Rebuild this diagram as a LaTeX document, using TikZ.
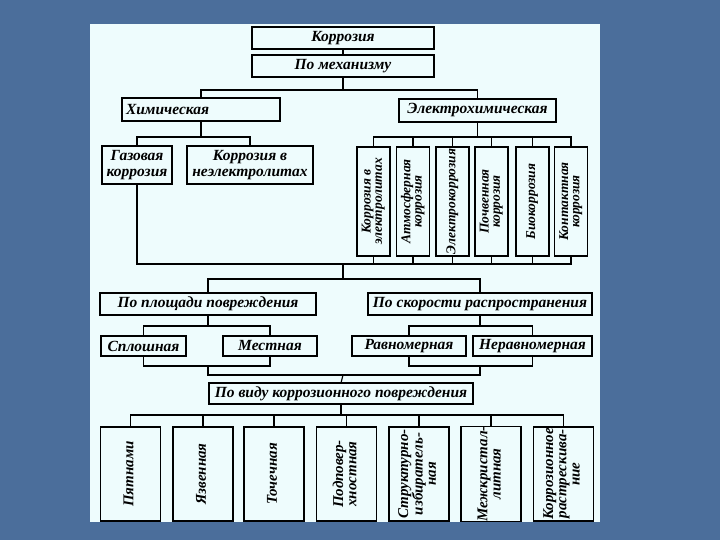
\documentclass[tikz,border=0pt]{standalone}
\usepackage{fontspec}
\setmainfont{Liberation Serif}
\usepackage{graphicx}
\definecolor{slideblue}{RGB}{75,110,155}
\definecolor{panel}{RGB}{238,252,253}
\def\vtext#1{\rotatebox{90}{\def\arraystretch{0.8}\begin{tabular}{@{}c@{}}#1\end{tabular}}}
\tikzset{
	blk/.style={draw=black, line width=1.3pt, fill=panel, inner sep=0pt, outer sep=0pt, align=center, font=\fontsize{15.5}{16}\selectfont\bfseries\itshape},
	eblk/.style={blk, minimum width=33, minimum height=109, font=\fontsize{13.5}{14}\selectfont\bfseries\itshape},
	bblk/.style={blk, minimum width=60, minimum height=94, font=\fontsize{15}{16.5}\selectfont\bfseries\itshape},
	link/.style={line width=1.2pt}
}

\begin{document}
\begin{tikzpicture}[x=1pt,y=1pt]
			%%%%% START %%%%%
			
			\fill[slideblue] (0,0) rectangle (720,-540);
			\useasboundingbox (0,0) rectangle (720,-540);
			\fill[panel] (90,-24) rectangle (600,-522);
			
			\node[blk, minimum width=182, minimum height=22] (kor) at (343,-38) {Коррозия};
			\node[blk, minimum width=182, minimum height=22] (mech) at (343,-66) {По механизму};
			
			\node[blk, minimum width=158, minimum height=23, text width=150, align=left] (chem) at (201,-109.5) {Химическая};
			\node[blk, minimum width=157, minimum height=23] (elec) at (477.5,-110.5) {Электрохимическая};
			
			\node[blk, minimum width=70, minimum height=38] (gas) at (137,-165) {Газовая\\коррозия};
			\node[blk, minimum width=126, minimum height=38] (nonel) at (250,-165) {Коррозия в\\неэлектролитах};
			
			\node[eblk] (e1) at (373.5,-201.5) {\vtext{Коррозия в\\электролитах}};
			\node[eblk] (e2) at (413,-201.5) {\vtext{Атмосферная\\коррозия}};
			\node[eblk] (e3) at (452.5,-201.5) {\vtext{Электрокоррозия}};
			\node[eblk] (e4) at (491.5,-201.5) {\vtext{Почвенная\\коррозия}};
			\node[eblk] (e5) at (532.5,-201.5) {\vtext{Биокоррозия}};
			\node[eblk] (e6) at (571,-201.5) {\vtext{Контактная\\коррозия}};
			
			\node[blk, minimum width=216, minimum height=22] (area) at (208,-304) {По площади повреждения};
			\node[blk, minimum width=224, minimum height=22] (speed) at (480,-304) {По скорости распространения};
			
			\node[blk, minimum width=85, minimum height=20] (solid) at (143.5,-346) {Сплошная};
			\node[blk, minimum width=94, minimum height=20] (local) at (270,-346) {Местная};
			\node[blk, minimum width=114, minimum height=20] (uni) at (409,-346) {Равномерная};
			\node[blk, minimum width=119, minimum height=20] (nonuni) at (532.5,-346) {Неравномерная};
			
			\node[blk, minimum width=264, minimum height=21] (vid) at (341,-393.5) {По виду коррозионного повреждения};
			
			\node[bblk] (b1) at (130.5,-474) {\vtext{Пятнами}};
			\node[bblk] (b2) at (203,-474) {\vtext{Язвенная}};
			\node[bblk] (b3) at (274,-474) {\vtext{Точечная}};
			\node[bblk] (b4) at (346.5,-474) {\vtext{Подповер-\\хностная}};
			\node[bblk] (b5) at (419,-474) {\vtext{Структурно-\\избиратель-\\ная}};
			\node[bblk] (b6) at (491,-474) {\vtext{Межкристал-\\литная}};
			\node[bblk] (b7) at (563.5,-474) {\vtext{Коррозионное\\растрескива-\\ние}};
			
			% mechanism
			\draw[link] (kor.south) -- (mech.north);
			\coordinate (j1) at (343,-90);
			\draw[link] (mech.south) -- (j1);
			\draw[link] (chem.north) |- (j1) -| (elec.north);
			
			\coordinate (j2) at (201,-137);
			\draw[link] (chem.south) -- (j2);
			\draw[link] (gas.north) |- (j2) -| (nonel.north);
			
			\coordinate (j3) at (477.5,-137);
			\draw[link] (elec.south) -- (j3);
			\draw[link] (e1.north) |- (j3) -| (e6.north);
			\foreach \i in {2,...,5}
				\draw[link] (e\i.north) -- (e\i.north |- j3);
			
			% common bus
			\coordinate (bus) at (343,-264);
			\draw[link] (gas.south) |- (bus) -| (e6.south);
			\foreach \i in {1,...,5}
				\draw[link] (e\i.south) -- (e\i.south |- bus);
			
			\coordinate (j4) at (343,-279);
			\draw[link] (bus) -- (j4);
			\draw[link] (area.north) |- (j4) -| (speed.north);
			
			% area and speed
			\coordinate (j5) at (208,-326);
			\draw[link] (area.south) -- (j5);
			\draw[link] (solid.north) |- (j5) -| (local.north);
			\coordinate (j6) at (480,-326);
			\draw[link] (speed.south) -- (j6);
			\draw[link] (uni.north) |- (j6) -| (nonuni.north);
			
			\coordinate (j7) at (208,-366);
			\coordinate (j8) at (480,-366);
			\draw[link] (solid.south) |- (j7) -| (local.south);
			\draw[link] (uni.south) |- (j8) -| (nonuni.south);
			\coordinate (j9) at (343,-375);
			\draw[link] (j7) |- (j9) -| (j8);
			\draw[link] (j9) -- (vid.north);
			
			% kind of damage
			\coordinate (j10) at (341,-415);
			\draw[link] (vid.south) -- (j10);
			\draw[link] (b1.north) |- (j10) -| (b7.north);
			\foreach \i in {2,...,6}
				\draw[link] (b\i.north) -- (b\i.north |- j10);
			
			%%%%% END %%%%%
\end{tikzpicture}
\end{document}
